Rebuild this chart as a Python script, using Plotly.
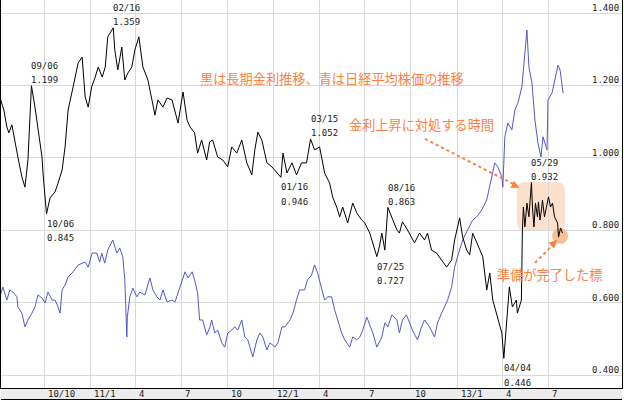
import plotly.graph_objects as go

# ---------------- data ----------------
black_dates = [
    "2010-07-05", "2010-07-13", "2010-07-19", "2010-07-23", "2010-07-29", "2010-08-04", "2010-08-10",
    "2010-08-18", "2010-08-24", "2010-08-30", "2010-09-06", "2010-09-13", "2010-09-19", "2010-09-27",
    "2010-09-29", "2010-10-06", "2010-10-13", "2010-10-23", "2010-10-29", "2010-11-06", "2010-11-12",
    "2010-11-18", "2010-11-28", "2010-12-08", "2010-12-16", "2010-12-22", "2010-12-28", "2011-01-04",
    "2011-01-11", "2011-01-17", "2011-01-25", "2011-01-31", "2011-02-05", "2011-02-16", "2011-02-19",
    "2011-02-25", "2011-03-05", "2011-03-11", "2011-03-17", "2011-03-25", "2011-03-31", "2011-04-08",
    "2011-04-16", "2011-04-26", "2011-05-04", "2011-05-10", "2011-05-16", "2011-05-26", "2011-06-03",
    "2011-06-13", "2011-06-25", "2011-07-05", "2011-07-13", "2011-07-19", "2011-07-28", "2011-08-03",
    "2011-08-11", "2011-08-21", "2011-08-27", "2011-09-02", "2011-09-12", "2011-09-22", "2011-10-02",
    "2011-10-10", "2011-10-20", "2011-10-30", "2011-11-09", "2011-11-19", "2011-11-25", "2011-12-01",
    "2011-12-09", "2011-12-19", "2011-12-29", "2012-01-16", "2012-01-20", "2012-01-28", "2012-02-07",
    "2012-02-16", "2012-02-26", "2012-03-07", "2012-03-15", "2012-03-23", "2012-04-02", "2012-04-12",
    "2012-04-22", "2012-04-28", "2012-05-06", "2012-05-12", "2012-05-18", "2012-05-28", "2012-06-07",
    "2012-06-15", "2012-06-25", "2012-07-01", "2012-07-11", "2012-07-25", "2012-07-30", "2012-08-04",
    "2012-08-10", "2012-08-13", "2012-08-16", "2012-08-26", "2012-09-03", "2012-09-08", "2012-09-14",
    "2012-09-22", "2012-09-28", "2012-10-08", "2012-10-18", "2012-10-28", "2012-11-03", "2012-11-11",
    "2012-11-21", "2012-12-01", "2012-12-11", "2012-12-21", "2012-12-27", "2013-01-06", "2013-01-12",
    "2013-01-20", "2013-01-26", "2013-02-01", "2013-02-15", "2013-02-21", "2013-03-01", "2013-03-07",
    "2013-03-13", "2013-03-23", "2013-03-31", "2013-04-04", "2013-04-09", "2013-04-15", "2013-04-21",
    "2013-04-29", "2013-05-01", "2013-05-09", "2013-05-11", "2013-05-13", "2013-05-16", "2013-05-20",
    "2013-05-24", "2013-05-29", "2013-05-31", "2013-06-03", "2013-06-06", "2013-06-10", "2013-06-12",
    "2013-06-15", "2013-06-18", "2013-06-20", "2013-06-24", "2013-06-28", "2013-07-02", "2013-07-06",
    "2013-07-10", "2013-07-14", "2013-07-20", "2013-07-22", "2013-07-26", "2013-07-30",
]
black_vals = [
    1.168, 1.132, 1.085, 1.069, 1.091, 1.041, 1.002,
    0.947, 0.919, 0.994, 1.199, 1.140, 1.077, 1.002,
    0.958, 0.845, 0.889, 0.906, 0.930, 0.966, 1.030,
    1.132, 1.196, 1.262, 1.278, 1.168, 1.140, 1.196,
    1.223, 1.251, 1.223, 1.251, 1.334, 1.359, 1.298,
    1.243, 1.306, 1.215, 1.234, 1.251, 1.298, 1.334,
    1.251, 1.215, 1.160, 1.118, 1.160, 1.140, 1.165,
    1.160, 1.096, 1.182, 1.104, 1.085, 1.069, 1.013,
    1.049, 0.994, 1.044, 1.049, 1.002, 0.994, 0.975,
    1.030, 1.013, 1.049, 0.986, 0.953, 1.022, 1.071,
    1.049, 0.986, 0.975, 0.946, 1.013, 0.958, 0.986,
    0.953, 0.986, 0.986, 1.052, 1.022, 1.030, 0.958,
    0.930, 0.892, 0.864, 0.837, 0.864, 0.820, 0.875,
    0.848, 0.828, 0.820, 0.792, 0.727, 0.754, 0.792,
    0.745, 0.801, 0.863, 0.828, 0.801, 0.792, 0.823,
    0.806, 0.792, 0.765, 0.792, 0.773, 0.792, 0.745,
    0.737, 0.718, 0.698, 0.718, 0.773, 0.834, 0.781,
    0.745, 0.732, 0.792, 0.745, 0.727, 0.635, 0.682,
    0.607, 0.560, 0.516, 0.446, 0.533, 0.643, 0.588,
    0.607, 0.571, 0.607, 0.801, 0.864, 0.809, 0.875,
    0.837, 0.932, 0.864, 0.809, 0.875, 0.837, 0.878,
    0.828, 0.856, 0.883, 0.837, 0.870, 0.892, 0.864,
    0.875, 0.837, 0.820, 0.781, 0.806, 0.792,
]

blue_dates = [
    "2010-07-05", "2010-07-11", "2010-07-19", "2010-07-25", "2010-07-31", "2010-08-08", "2010-08-10",
    "2010-08-18", "2010-08-24", "2010-08-30", "2010-09-07", "2010-09-13", "2010-09-19", "2010-09-27",
    "2010-10-03", "2010-10-09", "2010-10-17", "2010-10-23", "2010-10-29", "2010-11-02", "2010-11-06",
    "2010-11-12", "2010-11-18", "2010-11-28", "2010-12-08", "2010-12-22", "2010-12-28", "2011-01-05",
    "2011-01-14", "2011-01-20", "2011-01-24", "2011-01-30", "2011-02-05", "2011-02-15", "2011-02-23",
    "2011-03-01", "2011-03-07", "2011-03-11", "2011-03-15", "2011-03-16", "2011-03-21", "2011-03-27",
    "2011-04-04", "2011-04-10", "2011-04-20", "2011-04-30", "2011-05-06", "2011-05-14", "2011-05-20",
    "2011-05-26", "2011-06-03", "2011-06-13", "2011-06-19", "2011-06-25", "2011-07-03", "2011-07-09",
    "2011-07-15", "2011-07-23", "2011-07-28", "2011-08-03", "2011-08-07", "2011-08-13", "2011-08-21",
    "2011-08-27", "2011-08-31", "2011-09-06", "2011-09-12", "2011-09-20", "2011-09-26", "2011-10-02",
    "2011-10-10", "2011-10-16", "2011-10-22", "2011-10-30", "2011-11-05", "2011-11-11", "2011-11-21",
    "2011-11-29", "2011-12-05", "2011-12-11", "2011-12-19", "2011-12-25", "2012-01-04", "2012-01-10",
    "2012-01-18", "2012-01-24", "2012-02-03", "2012-02-09", "2012-02-16", "2012-02-22", "2012-03-03",
    "2012-03-09", "2012-03-17", "2012-03-23", "2012-03-29", "2012-04-06", "2012-04-12", "2012-04-18",
    "2012-04-26", "2012-05-02", "2012-05-08", "2012-05-16", "2012-05-22", "2012-06-01", "2012-06-07",
    "2012-06-15", "2012-06-21", "2012-06-27", "2012-07-05", "2012-07-11", "2012-07-17", "2012-07-25",
    "2012-08-04", "2012-08-10", "2012-08-16", "2012-08-24", "2012-09-03", "2012-09-08", "2012-09-14",
    "2012-09-22", "2012-09-28", "2012-10-04", "2012-10-14", "2012-10-22", "2012-10-28", "2012-11-07",
    "2012-11-17", "2012-11-23", "2012-12-01", "2012-12-07", "2012-12-13", "2012-12-21", "2012-12-27",
    "2013-01-04", "2013-01-12", "2013-01-22", "2013-02-01", "2013-02-09", "2013-02-19", "2013-03-01",
    "2013-03-11", "2013-03-17", "2013-03-23", "2013-03-31", "2013-04-02", "2013-04-06", "2013-04-12",
    "2013-04-20", "2013-04-26", "2013-05-02", "2013-05-10", "2013-05-16", "2013-05-20", "2013-05-24",
    "2013-05-30", "2013-06-05", "2013-06-11", "2013-06-17", "2013-06-21", "2013-06-29", "2013-07-01",
    "2013-07-09", "2013-07-15", "2013-07-21", "2013-07-25", "2013-07-31",
]
blue_vals = [
    0.616, 0.643, 0.607, 0.635, 0.629, 0.616, 0.588,
    0.571, 0.533, 0.552, 0.571, 0.588, 0.621, 0.613,
    0.599, 0.629, 0.607, 0.607, 0.588, 0.571, 0.635,
    0.649, 0.671, 0.685, 0.704, 0.712, 0.698, 0.737,
    0.737, 0.712, 0.737, 0.709, 0.745, 0.773, 0.737,
    0.751, 0.726, 0.663, 0.505, 0.560, 0.616, 0.640,
    0.616, 0.629, 0.621, 0.668, 0.635, 0.616, 0.607,
    0.635, 0.602, 0.607, 0.602, 0.627, 0.663, 0.685,
    0.668, 0.685, 0.663, 0.627, 0.552, 0.552, 0.511,
    0.530, 0.552, 0.516, 0.524, 0.489, 0.477, 0.516,
    0.524, 0.533, 0.524, 0.552, 0.505, 0.497, 0.450,
    0.497, 0.516, 0.505, 0.469, 0.489, 0.477, 0.489,
    0.533, 0.533, 0.552, 0.571, 0.607, 0.635, 0.635,
    0.663, 0.676, 0.704, 0.682, 0.643, 0.607, 0.616,
    0.616, 0.580, 0.552, 0.516, 0.497, 0.477, 0.505,
    0.497, 0.505, 0.524, 0.560, 0.538, 0.516, 0.477,
    0.505, 0.544, 0.533, 0.566, 0.552, 0.516, 0.552,
    0.566, 0.544, 0.524, 0.497, 0.533, 0.552, 0.533,
    0.505, 0.544, 0.571, 0.588, 0.607, 0.643, 0.698,
    0.737, 0.773, 0.801, 0.828, 0.837, 0.856, 0.884,
    0.947, 0.986, 0.975, 0.947, 0.919, 1.058, 1.096,
    1.077, 1.132, 1.151, 1.196, 1.298, 1.353, 1.251,
    1.207, 1.104, 1.041, 1.002, 1.058, 1.022, 1.160,
    1.179, 1.223, 1.256, 1.243, 1.179,
]

# labelled highs / lows of the long-term rate
mark_dates = ["2010-09-06", "2010-10-06", "2011-02-16", "2012-01-16", "2012-03-15",
              "2012-07-25", "2012-08-16", "2013-04-04", "2013-05-29"]
mark_vals = [1.199, 0.845, 1.359, 0.946, 1.052, 0.727, 0.863, 0.446, 0.932]
mark_date_text = ["09/06", "10/06", "02/16", "01/16", "03/15", "07/25", "08/16", "04/04", "05/29"]
mark_is_high = [True, False, True, False, True, False, True, False, True]

x_tick_dates = ["2010-10-01", "2011-01-01", "2011-04-01", "2011-07-01", "2011-10-01", "2012-01-01",
                "2012-04-01", "2012-07-01", "2012-10-01", "2013-01-01", "2013-04-01", "2013-07-01"]
x_tick_labels = ["10/10", "11/1", "4", "7", "10", "12/1", "4", "7", "10", "13/1", "4", "7"]
y_tick_vals = [0.4, 0.6, 0.8, 1.0, 1.2, 1.4]
y_tick_labels = ["0.400", "0.600", "0.800", "1.000", "1.200", "1.400"]

highlight_date = ["2013-07-25"]
highlight_val = [0.784]

title_note = "黒は長期金利推移、青は日経平均株価の推移"
note_time = "金利上昇に対処する時間"
note_ready = "準備が完了した標"

# ---------------- styles ----------------
ORANGE = "#ff7f40"
MONO = "DejaVu Sans Mono"
JP = "Noto Sans CJK JP"
GRID = "#d9d9d9"
PLOT_H = 388

fig = go.Figure()
fig.add_trace(go.Scatter(x=highlight_date, y=highlight_val, mode="markers",
                         marker=dict(size=16, color="#f9bf98", line=dict(width=0)),
                         hoverinfo="skip", showlegend=False))
fig.add_trace(go.Scatter(x=blue_dates, y=blue_vals, mode="lines",
                         line=dict(color="#5656cc", width=1), showlegend=False))
fig.add_trace(go.Scatter(x=black_dates, y=black_vals, mode="lines",
                         line=dict(color="#000000", width=1), showlegend=False))

ann = []
# y tick labels (inside, above grid lines)
for v, t in zip(y_tick_vals, y_tick_labels):
    ann.append(dict(x=1, xref="paper", y=v, yref="y", text=t, showarrow=False,
                    xanchor="right", yanchor="middle", xshift=-2, yshift=5, borderpad=0,
                    font=dict(family=MONO, size=9, color="#1a1a1a")))
# x tick labels in bottom strip, left-aligned to grid lines
for d, t in zip(x_tick_dates, x_tick_labels):
    ann.append(dict(x=d, xref="x", y=0, yref="paper", text=t, showarrow=False,
                    xanchor="left", yanchor="middle", xshift=3, yshift=-6, borderpad=0,
                    font=dict(family=MONO, size=9, color="#1a1a1a")))
# high / low labels
for d, v, t, hi in zip(mark_dates, mark_vals, mark_date_text, mark_is_high):
    vs = f"{v:.3f}"
    if hi:
        sh_val, sh_date = 5.5, 19.5
    else:
        sh_date, sh_val = -10, -24.5
    for txt, sh in ((t, sh_date), (vs, sh_val)):
        ann.append(dict(x=d, y=v, text=txt, showarrow=False, xanchor="left", yanchor="middle",
                        xshift=-1, yshift=sh, borderpad=0,
                        font=dict(family=MONO, size=9, color="#1a1a1a")))
# orange notes
for x, y, t in (("2012-04-27", 1.220, title_note), ("2012-10-21", 1.093, note_time),
                ("2013-07-05", 0.679, note_ready)):
    ann.append(dict(x=x, y=y, text=t, showarrow=False, xanchor="center", yanchor="middle",
                    font=dict(family=JP, size=13.2, color=ORANGE)))
# arrow heads
ann.append(dict(x="2013-05-05", y=0.917, ax=-8, ay=-4, text="", showarrow=True,
                arrowhead=2, arrowsize=1, arrowwidth=1.6, arrowcolor=ORANGE))
ann.append(dict(x="2013-07-19", y=0.773, ax=-6, ay=6, text="", showarrow=True,
                arrowhead=2, arrowsize=1, arrowwidth=1.6, arrowcolor=ORANGE))

shapes = [
    # bottom strip
    dict(type="rect", xref="paper", yref="paper", x0=0, x1=1, y0=-12 / PLOT_H, y1=0,
         fillcolor="#ececec", line=dict(width=0), layer="below"),
    dict(type="line", xref="paper", yref="paper", x0=0, x1=1, y0=-11.5 / PLOT_H, y1=-11.5 / PLOT_H,
         line=dict(color="#000000", width=1)),
    # rounded highlight box
    dict(type="path", xref="x", yref="y", layer="below",
         path=("M 2013-05-18,0.933 L 2013-07-17,0.933 Q 2013-08-04,0.933 2013-08-04,0.908 "
               "L 2013-08-04,0.823 Q 2013-08-04,0.798 2013-07-17,0.798 L 2013-05-18,0.798 "
               "Q 2013-04-30,0.798 2013-04-30,0.823 L 2013-04-30,0.908 Q 2013-04-30,0.933 2013-05-18,0.933 Z"),
         fillcolor="#fce0cc", line=dict(width=0)),
    # dotted arrows
    dict(type="line", xref="x", yref="y", x0="2012-10-29", y0=1.052, x1="2013-05-01", y1=0.922,
         line=dict(color=ORANGE, width=2, dash="dot")),
    dict(type="line", xref="x", yref="y", x0="2013-06-05", y0=0.710, x1="2013-07-16", y1=0.766,
         line=dict(color=ORANGE, width=2, dash="dot")),
]

fig.update_layout(
    width=624, height=400,
    margin=dict(l=1, r=2, t=0, b=12, pad=0),
    paper_bgcolor="white", plot_bgcolor="white",
    showlegend=False, hovermode=False,
    annotations=ann, shapes=shapes,
    xaxis=dict(type="date", range=["2010-07-07 08:00", "2013-11-25 10:00"],
               tickvals=x_tick_dates, showticklabels=False, ticks="",
               showgrid=True, gridcolor=GRID, gridwidth=1, zeroline=False,
               showline=True, linecolor="#000000", linewidth=1, mirror=False),
    yaxis=dict(range=[0.3641, 1.4359], tickvals=y_tick_vals, showticklabels=False, ticks="",
               showgrid=True, gridcolor=GRID, gridwidth=1, zeroline=False,
               showline=True, linecolor="#000000", linewidth=1, mirror=True),
)

fig.write_html("out.html", config={"displayModeBar": False},
               post_script="document.body.style.margin='0';document.body.style.overflow='hidden';")
